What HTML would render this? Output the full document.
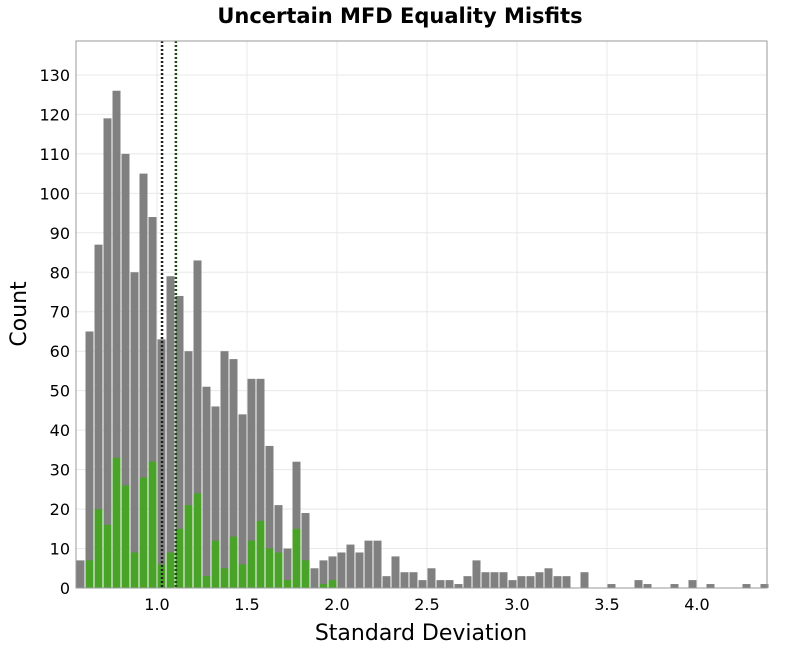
<!DOCTYPE html>
<html><head><meta charset="utf-8"><style>
body{margin:0;background:#fff;font-family:"DejaVu Sans","Liberation Sans",sans-serif}
svg text{font-family:"DejaVu Sans","Liberation Sans",sans-serif}
</style></head><body>
<svg id="chart" width="800" height="650" xmlns="http://www.w3.org/2000/svg"></svg>
<script>
const binStart = 0.55;
const binWidth = 0.05;
const grayCounts = [7,65,87,119,126,110,80,105,94,63,79,74,60,83,51,46,60,58,44,53,53,36,21,10,32,19,5,7,8,9,11,9,12,12,3,8,4,4,2,5,2,2,1,3,7,4,4,4,2,3,3,4,5,3,3,0,4,0,0,1,0,0,2,1,0,0,1,0,2,0,1,0,0,0,1,0,1];
const greenCounts = [0,7,20,16,33,26,9,28,32,6,9,15,21,24,3,12,5,13,6,12,17,10,9,2,15,7,0,1,2];
const yTicks = [0,10,20,30,40,50,60,70,80,90,100,110,120,130];
const xTicks = [1.0,1.5,2.0,2.5,3.0,3.5,4.0];
const blackLine = 1.028;
const greenLine = 1.105;

const NS="http://www.w3.org/2000/svg";
const svg=document.getElementById('chart');
const L=76,R=767,T=41,B=588;
const xMin=0.55,xMax=4.389,yMax=138.6;
const X=v=>L+(v-xMin)/(xMax-xMin)*(R-L);
const Y=v=>B-v/yMax*(B-T);
function mk(tag,a,txt){const e=document.createElementNS(NS,tag);for(const k in a)e.setAttribute(k,a[k]);if(txt!==undefined)e.textContent=txt;svg.appendChild(e);return e;}

let e;
e=mk('rect',{x:L,y:T,width:R-L,height:B-T,fill:'#fff'});


yTicks.forEach(t=>{
  e=mk('line',{x1:L,x2:R,y1:Y(t),y2:Y(t),stroke:'#e8e8e8','stroke-width':1});
  
  
  e=mk('text',{x:L-6,y:Y(t)+6,'text-anchor':'end','font-size':16,fill:'#000'},String(t));
  
  
});
xTicks.forEach(t=>{
  e=mk('line',{x1:X(t),x2:X(t),y1:T,y2:B,stroke:'#e8e8e8','stroke-width':1});
  
  
  e=mk('text',{x:X(t),y:B+22,'text-anchor':'middle','font-size':16,fill:'#000'},t.toFixed(1));
  
  
});
grayCounts.forEach((c,i)=>{
  if(!c)return;
  const x0=X(binStart+i*binWidth),x1=X(binStart+(i+1)*binWidth);
  e=mk('rect',{x:x0+0.5,y:Y(c),width:x1-x0-1,height:B-Y(c),fill:'#808080'});
  
  
});
greenCounts.forEach((c,i)=>{
  if(!c)return;
  const x0=X(binStart+i*binWidth),x1=X(binStart+(i+1)*binWidth);
  e=mk('rect',{x:x0+0.5,y:Y(c),width:x1-x0-1,height:B-Y(c),fill:'#4aa329'});
  
  
});
e=mk('line',{x1:X(blackLine),x2:X(blackLine),y1:T,y2:B,stroke:'#222','stroke-width':2.5,'stroke-dasharray':'2,2'});


e=mk('line',{x1:X(greenLine),x2:X(greenLine),y1:T,y2:B,stroke:'#1c4a12','stroke-width':2.5,'stroke-dasharray':'2,2'});


e=mk('rect',{x:L,y:T,width:R-L,height:B-T,fill:'none',stroke:'#999','stroke-width':1});


e=mk('text',{x:400,y:23,'text-anchor':'middle','font-size':21,'font-weight':'bold',fill:'#000'},'Uncertain MFD Equality Misfits');


e=mk('text',{x:421,y:640,'text-anchor':'middle','font-size':22,fill:'#000'},'Standard Deviation');


e=mk('text',{x:0,y:0,'text-anchor':'middle','font-size':22,fill:'#000',transform:'translate(26,314) rotate(-90)'},'Count');


</script>
</body></html>
